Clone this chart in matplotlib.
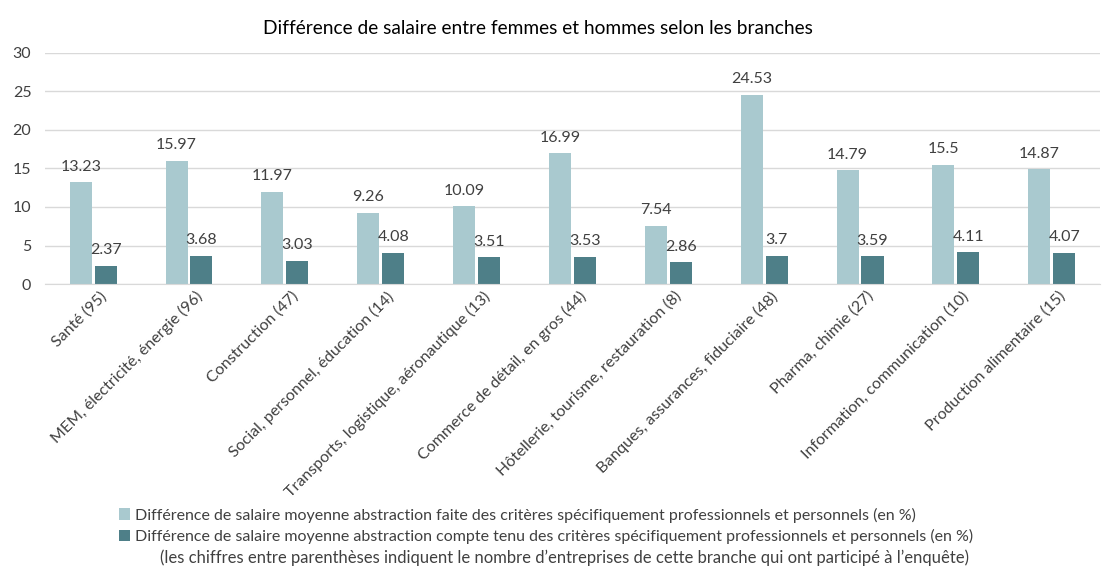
import matplotlib.pyplot as plt
import matplotlib.transforms as mtransforms
import numpy as np

plt.rcParams['font.family'] = ['Lato', 'DejaVu Sans']

branches = ['Santé (95)', 'MEM, électricité, énergie (96)', 'Construction (47)',
            'Social, personnel, éducation (14)', 'Transports, logistique, aéronautique (13)',
            'Commerce de détail, en gros (44)', 'Hôtellerie, tourisme, restauration (8)',
            'Banques, assurances, fiduciaire (48)', 'Pharma, chimie (27)',
            'Information, communication (10)', 'Production alimentaire (15)']
sans_criteres = [13.23, 15.97, 11.97, 9.26, 10.09, 16.99, 7.54, 24.53, 14.79, 15.5, 14.87]
avec_criteres = [2.37, 3.68, 3.03, 4.08, 3.51, 3.53, 2.86, 3.7, 3.59, 4.11, 4.07]

lbl1 = 'Différence de salaire moyenne abstraction faite des critères spécifiquement professionnels et personnels (en %)'
lbl2 = 'Différence de salaire moyenne abstraction compte tenu des critères spécifiquement professionnels et personnels (en %)'

c_light = '#A9C9CF'
c_dark = '#4E7F88'
txt = '#404040'

fig = plt.figure(figsize=(11.03, 5.67), dpi=100)
ax = fig.add_axes([0.041, 0.499, 0.956, 0.408])

x = np.arange(len(branches))
w = 0.23
b1 = ax.bar(x - 0.13, sans_criteres, w, color=c_light, label=lbl1, zorder=2)
b2 = ax.bar(x + 0.13, avec_criteres, w, color=c_dark, label=lbl2, zorder=2)

for bars in (b1, b2):
    for r in bars:
        v = r.get_height()
        ax.text(r.get_x() + r.get_width() / 2, v + 1.1, f'{v:g}', ha='center', va='bottom',
                fontsize=11.5, color=txt)

ax.set_xlim(-0.5, len(branches) - 0.5)
ax.set_ylim(0, 30)
ax.set_yticks(range(0, 31, 5))
ax.yaxis.grid(True, color='#D9D9D9', linewidth=1, zorder=0)
for s in ['top', 'right', 'left']:
    ax.spines[s].set_visible(False)
ax.spines['bottom'].set_color('#D9D9D9')
ax.tick_params(axis='both', length=0, labelsize=11.5, colors=txt)
ax.tick_params(axis='y', pad=10)
ax.set_xticks(x)
ax.set_xticklabels(branches, rotation=45, ha='right', rotation_mode='anchor', fontsize=11.5)
shift = mtransforms.ScaledTranslation(6 / 100, 0, fig.dpi_scale_trans)
for lab in ax.get_xticklabels():
    lab.set_transform(lab.get_transform() + shift)

fig.text(538 / 1103, 1 - 28 / 567, 'Différence de salaire entre femmes et hommes selon les branches',
         ha='center', va='center', fontsize=13.8, color='black')

fig.legend(loc='upper left', bbox_to_anchor=(0.108, 0.105), frameon=False, fontsize=11.5,
           handlelength=0.7, handleheight=0.7, handletextpad=0.3, labelspacing=0.4,
           labelcolor=txt, borderaxespad=0, borderpad=0)
fig.text(0.512, 1 - 558 / 567, "(les chiffres entre parenthèses indiquent le nombre d’entreprises de cette branche qui ont participé à l’enquête)",
         ha='center', va='center', fontsize=12, color=txt)

fig.savefig('out.png', dpi=100)
